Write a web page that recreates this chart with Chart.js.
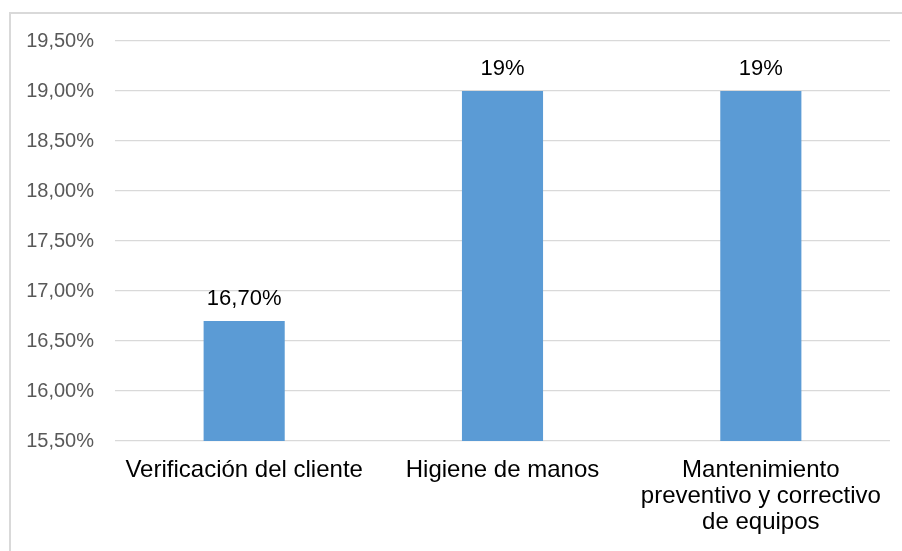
<!DOCTYPE html>
<html>
<head>
<meta charset="utf-8">
<script src="https://cdn.jsdelivr.net/npm/chart.js@4"></script>
<style>
  html, body { margin: 0; padding: 0; background: #fff; }
  body { width: 902px; height: 551px; position: relative; overflow: hidden; }
  .frame {
    position: absolute; left: 9px; top: 12px; width: 1000px; height: 1000px;
    border: 2px solid #d9d9d9; box-sizing: border-box;
  }
  .wrap { position: absolute; left: 0; top: 0; width: 902px; height: 551px; }
</style>
</head>
<body>
<div class="frame"></div>
<div class="wrap"><canvas id="barChart" width="902" height="551"></canvas></div>
<script>
// Categories and values (percent)
const categories = [
    'Verificación del cliente',
    'Higiene de manos',
    ['Mantenimiento', 'preventivo y correctivo', 'de equipos']
];
const values = [16.7, 19, 19];
const valueLabels = ['16,70%', '19%', '19%'];

const axisMin = 15.5;
const axisMax = 19.5;
const axisStep = 0.5;

function formatPercent(v) {
    return v.toFixed(2).replace('.', ',') + '%';
}

// Writes the value above each bar
const barValueLabels = {
    id: 'barValueLabels',
    afterDatasetsDraw(chart) {
        const ctx = chart.ctx;
        const meta = chart.getDatasetMeta(0);
        ctx.save();
        ctx.font = '22px "Liberation Sans", Arial, sans-serif';
        ctx.fillStyle = '#000';
        ctx.textAlign = 'center';
        ctx.textBaseline = 'alphabetic';
        meta.data.forEach((bar, i) => {
            ctx.fillText(valueLabels[i], bar.x, bar.y - 16);
        });
        ctx.restore();
    }
};

new Chart(document.getElementById('barChart').getContext('2d'), {
    type: 'bar',
    data: {
        labels: categories,
        datasets: [{
            data: values,
            backgroundColor: '#5b9bd5',
            borderWidth: 0,
            categoryPercentage: 1,
            barPercentage: 0.314
        }]
    },
    options: {
        responsive: false,
        animation: false,
        layout: { padding: { top: 41, right: 12, left: 0, bottom: 0 } },
        plugins: {
            legend: { display: false },
            tooltip: { enabled: false }
        },
        scales: {
            y: {
                min: axisMin,
                max: axisMax,
                afterFit(scale) { scale.width = 115; },
                border: { display: false },
                grid: { color: '#d9d9d9', lineWidth: 1.3, drawTicks: false },
                ticks: {
                    stepSize: axisStep,
                    padding: 21,
                    color: '#595959',
                    font: { family: '"Liberation Sans", Arial, sans-serif', size: 20 },
                    callback: (v) => formatPercent(v)
                }
            },
            x: {
                afterFit(scale) { scale.height = 110; },
                border: { display: false },
                grid: { display: false, drawTicks: false },
                ticks: {
                    padding: 17,
                    color: '#000',
                    maxRotation: 0,
                    autoSkip: false,
                    font: { family: '"Liberation Sans", Arial, sans-serif', size: 24, lineHeight: 1.07 }
                }
            }
        }
    },
    plugins: [barValueLabels]
});
</script>
</body>
</html>
